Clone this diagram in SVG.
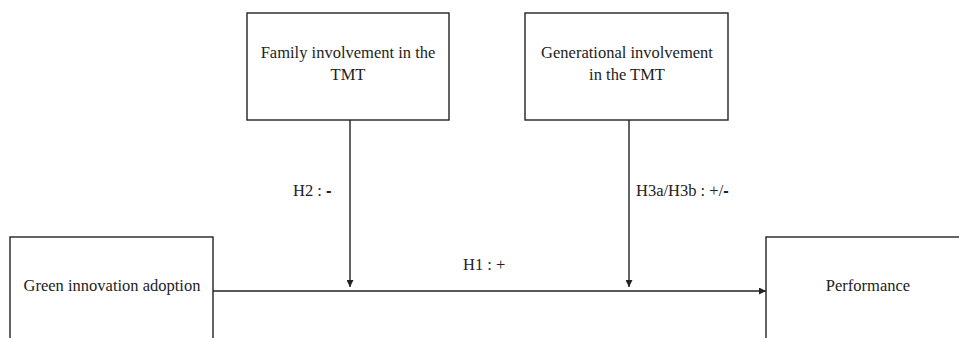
<svg xmlns="http://www.w3.org/2000/svg" width="959" height="338" viewBox="0 0 959 338">
<style>
.box{fill:#fff;stroke:#222;stroke-width:1.4}
.t{font-family:'Liberation Serif','Times New Roman','DejaVu Serif',serif;font-size:16.5px;fill:#222;text-anchor:middle}
.l{font-family:'Liberation Serif','Times New Roman','DejaVu Serif',serif;font-size:16.5px;fill:#222}
.d{font-family:'Liberation Sans',Arial,sans-serif;font-weight:bold}
.c{stroke:#222;stroke-width:1.4;fill:none}
</style>
<defs>
<marker id="ah" viewBox="0 0 10 10" refX="10" refY="5" markerWidth="9" markerHeight="7" markerUnits="userSpaceOnUse" orient="auto">
<path d="M0,0 L10,5 L0,10 Z" fill="#222"/>
</marker>
</defs>
<rect width="959" height="338" fill="#fff"/>
<g id="node-family">
<rect class="box" x="247" y="13" width="202" height="107"/>
<text class="t" font-family="Liberation Serif, serif" x="348" y="58">Family involvement in the</text>
<text class="t" font-family="Liberation Serif, serif" x="348" y="80">TMT</text>
</g>
<g id="node-generational">
<rect class="box" x="525" y="13" width="203" height="107"/>
<text class="t" font-family="Liberation Serif, serif" x="627" y="58">Generational involvement</text>
<text class="t" font-family="Liberation Serif, serif" x="627" y="80">in the TMT</text>
</g>
<g id="node-green">
<rect class="box" x="10" y="237" width="203" height="110"/>
<text class="t" font-family="Liberation Serif, serif" x="112" y="291">Green innovation adoption</text>
</g>
<g id="node-performance">
<rect class="box" x="766" y="237" width="200" height="110"/>
<text class="t" font-family="Liberation Serif, serif" x="868" y="291">Performance</text>
</g>
<g id="connectors">
<line class="c" x1="213" y1="291" x2="766" y2="291" marker-end="url(#ah)"/>
<line class="c" x1="350" y1="120" x2="350" y2="287" marker-end="url(#ah)"/>
<line class="c" x1="629" y1="120" x2="629" y2="287" marker-end="url(#ah)"/>
<text class="l" font-family="Liberation Serif, serif" x="293" y="196">H2 : <tspan class="d">-</tspan></text>
<text class="l" font-family="Liberation Serif, serif" x="636" y="196">H3a/H3b : +/<tspan class="d">-</tspan></text>
<text class="l" font-family="Liberation Serif, serif" x="463" y="270">H1 : +</text>
</g>
</svg>
